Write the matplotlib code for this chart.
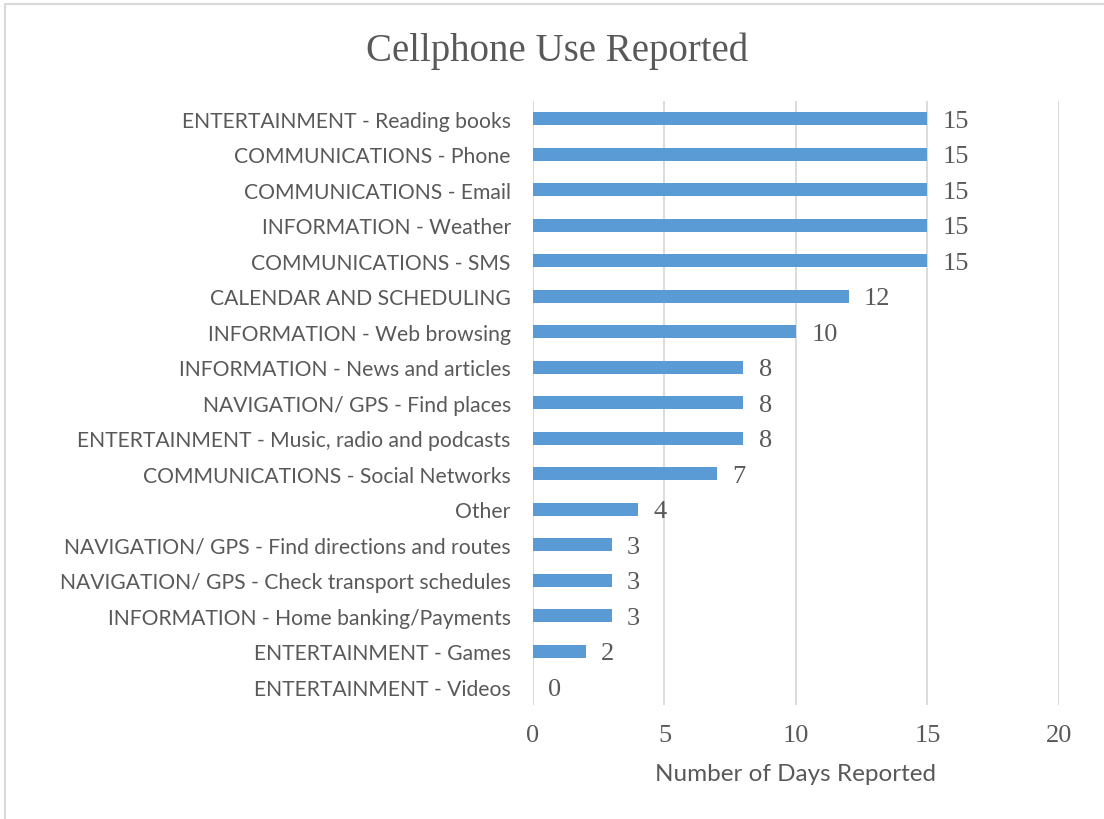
import matplotlib
matplotlib.use("Agg")
import matplotlib.pyplot as plt
from matplotlib.patches import Rectangle

categories = [
    "ENTERTAINMENT - Reading books",
    "COMMUNICATIONS - Phone",
    "COMMUNICATIONS - Email",
    "INFORMATION - Weather",
    "COMMUNICATIONS - SMS",
    "CALENDAR AND SCHEDULING",
    "INFORMATION - Web browsing",
    "INFORMATION - News and articles",
    "NAVIGATION/ GPS - Find places",
    "ENTERTAINMENT - Music, radio and podcasts",
    "COMMUNICATIONS - Social Networks",
    "Other",
    "NAVIGATION/ GPS - Find directions and routes",
    "NAVIGATION/ GPS - Check transport schedules",
    "INFORMATION - Home banking/Payments",
    "ENTERTAINMENT - Games",
    "ENTERTAINMENT - Videos",
]
days = [15, 15, 15, 15, 15, 12, 10, 8, 8, 8, 7, 4, 3, 3, 3, 2, 0]
x_ticks = [0, 5, 10, 15, 20]

TEXT = "#595959"
BAR = "#5b9bd5"
GRID = "#d9d9d9"
SANS = ["Lato", "DejaVu Sans"]
SERIF = ["Liberation Serif", "DejaVu Serif"]

fig = plt.figure(figsize=(11.04, 8.2), dpi=100)
ax = fig.add_axes([0.4828, 0.1395, 0.4764, 0.736])

ypos = list(range(len(categories)))
ax.barh(ypos, days, height=0.37, color=BAR, zorder=3)

for y, v in zip(ypos, days):
    ax.annotate(str(v), (v, y), xytext=(11, -1.5), textcoords="offset points",
                ha="left", va="center", fontsize=19, color=TEXT, family=SERIF)

ax.set_xlim(0, 20)
ax.set_ylim(len(categories) - 0.5, -0.5)
ax.set_xticks(x_ticks)
ax.set_yticks(ypos)
ax.set_yticklabels(categories, family=SANS, fontsize=15.2, color=TEXT)
ax.set_xticklabels([str(t) for t in x_ticks], family=SERIF, fontsize=19, color=TEXT)
ax.tick_params(axis="both", length=0)
ax.tick_params(axis="y", pad=16)
ax.tick_params(axis="x", pad=14)

ax.grid(axis="x", color=GRID, linewidth=1.3, zorder=0)
for s in ax.spines.values():
    s.set_visible(False)

ax.set_xlabel("Number of Days Reported", family=SANS, fontsize=17.5, color=TEXT, labelpad=12)
fig.text(0.505, 0.938, "Cellphone Use Reported", ha="center", va="center",
         family=SERIF, fontsize=28, color=TEXT)

# chart area frame
fig.patches.append(Rectangle((4.5 / 1104, -0.1), 1.2, 1.1 - 4.5 / 820, transform=fig.transFigure,
                             fill=False, edgecolor=GRID, linewidth=1.5))

fig.savefig("out.png", dpi=100, facecolor="white")
